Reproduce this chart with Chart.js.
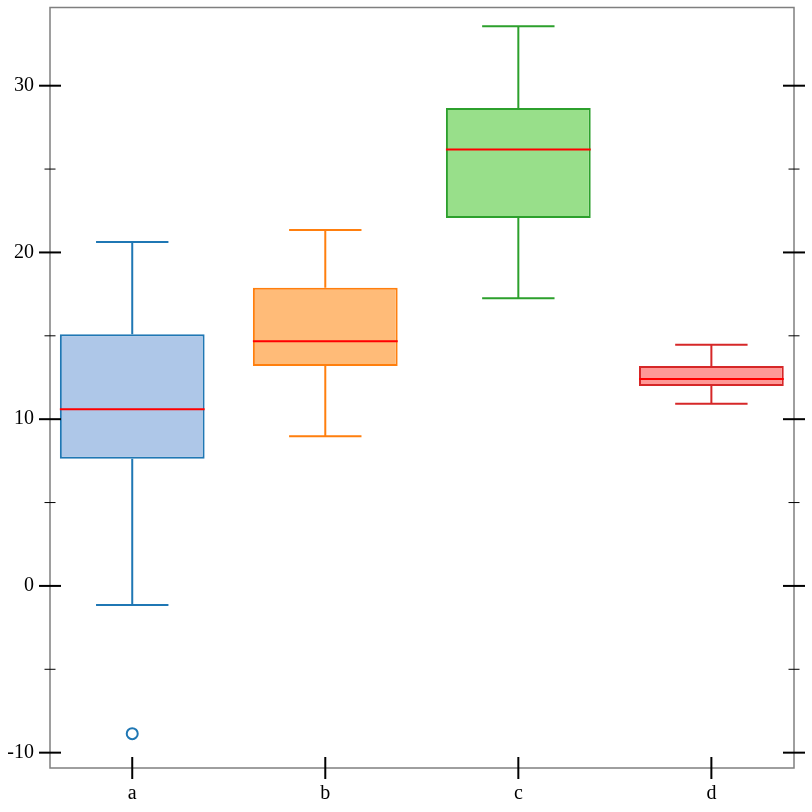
<!DOCTYPE html>
<html><head><meta charset="utf-8">
<script src="https://cdn.jsdelivr.net/npm/chart.js@4/dist/chart.umd.min.js"></script>
<style>html,body{margin:0;padding:0;background:#fff}#wrap{width:812px;height:812px}</style>
</head><body><div id="wrap"><canvas id="c" width="812" height="812"></canvas></div>
<script>
const categories = ['a', 'b', 'c', 'd'];
const whiskerLow = [-1.14, 8.98, 17.26, 10.93];
const q1 = [7.62, 13.19, 22.07, 11.99];
const medians = [10.60, 14.67, 26.17, 12.41];
const q3 = [15.09, 17.88, 28.66, 13.19];
const whiskerHigh = [20.62, 21.35, 33.57, 14.47];
const outliers = [[-8.86], [], [], []];
const yTickValues = [-10, -5, 0, 5, 10, 15, 20, 25, 30];
const yLabelValues = [-10, 0, 10, 20, 30];
const strokeColors = ['#1f77b4', '#ff7f0e', '#2ca02c', '#d62728'];
const fillColors = ['#aec7e8', '#ffbb78', '#98df8a', '#ff9896'];

const BOX_HALF = 0.375;
const CAP_HALF = 0.1875;
const FONT = { family: "'Liberation Serif', 'DejaVu Serif', serif", size: 20 };

const medianData = [];
categories.forEach((c, i) => {
  const x = i + 1;
  medianData.push({ x: x - BOX_HALF, y: medians[i] }, { x: x + BOX_HALF, y: medians[i] }, { x: x, y: null });
});

const whiskerSets = categories.map((c, i) => {
  const x = i + 1;
  return {
    type: 'line',
    data: [
      { x: x, y: q3[i] }, { x: x, y: whiskerHigh[i] }, { x: x, y: null },
      { x: x - CAP_HALF, y: whiskerHigh[i] }, { x: x + CAP_HALF, y: whiskerHigh[i] }, { x: x, y: null },
      { x: x, y: q1[i] }, { x: x, y: whiskerLow[i] }, { x: x, y: null },
      { x: x - CAP_HALF, y: whiskerLow[i] }, { x: x + CAP_HALF, y: whiskerLow[i] }
    ],
    borderColor: strokeColors[i],
    borderWidth: 2,
    pointRadius: 0,
    spanGaps: false,
    tension: 0,
    fill: false
  };
});

const outlierData = [];
const outlierColors = [];
outliers.forEach((arr, i) => arr.forEach(v => { outlierData.push({ x: i + 1, y: v }); outlierColors.push(strokeColors[i]); }));

const frameAndTicks = {
  id: 'frameAndTicks',
  afterDraw(chart) {
    const { ctx, chartArea: { left, right, top, bottom }, scales: { x, y } } = chart;
    ctx.save();
    ctx.strokeStyle = '#7f7f7f';
    ctx.lineWidth = 1.5;
    ctx.strokeRect(left, top, right - left, bottom - top);
    ctx.strokeStyle = '#000';
    y.ticks.forEach(t => {
      const major = yLabelValues.includes(t.value);
      const py = y.getPixelForValue(t.value);
      const len = major ? 11 : 5.5;
      ctx.lineWidth = major ? 2 : 1;
      [left, right].forEach(ax => {
        ctx.beginPath(); ctx.moveTo(ax - len, py); ctx.lineTo(ax + len, py); ctx.stroke();
      });
    });
    x.ticks.forEach(t => {
      const px = x.getPixelForValue(t.value);
      ctx.lineWidth = 2;
      ctx.beginPath(); ctx.moveTo(px, bottom - 11); ctx.lineTo(px, bottom + 11); ctx.stroke();
    });
    ctx.restore();
  }
};

new Chart(document.getElementById('c'), {
  type: 'bar',
  data: {
    datasets: [
      {
        type: 'line',
        data: medianData,
        borderColor: '#ff0000',
        borderWidth: 2,
        pointRadius: 0,
        spanGaps: false,
        tension: 0,
        fill: false
      },
      {
        type: 'line',
        data: outlierData,
        showLine: false,
        pointStyle: 'circle',
        pointRadius: 5.5,
        pointBorderWidth: 2,
        pointBorderColor: outlierColors,
        pointBackgroundColor: 'rgba(0,0,0,0)'
      },
      ...whiskerSets,
      {
        type: 'bar',
        data: categories.map((c, i) => ({ x: i + 1, y: [q1[i], q3[i]] })),
        backgroundColor: fillColors,
        borderColor: strokeColors,
        borderWidth: 2,
        borderSkipped: false,
        barPercentage: 0.75,
        categoryPercentage: 1
      }
    ]
  },
  options: {
    responsive: false,
    animation: false,
    devicePixelRatio: 1,
    layout: { padding: { top: 6, right: 18, left: 0, bottom: 0 } },
    plugins: { legend: { display: false }, tooltip: { enabled: false } },
    scales: {
      x: {
        type: 'linear',
        position: 'bottom',
        offset: false,
        min: 0.574,
        max: 4.428,
        grid: { display: false, drawTicks: false, offset: false },
        border: { display: false },
        afterBuildTicks: s => { s.ticks = categories.map((c, i) => ({ value: i + 1 })); },
        afterFit: s => { s.height = 44; s.paddingLeft = 0; s.paddingRight = 0; },
        ticks: {
          font: FONT,
          color: '#000',
          padding: 14,
          autoSkip: false,
          maxRotation: 0,
          callback: v => categories[v - 1] !== undefined ? categories[v - 1] : ''
        }
      },
      y: {
        type: 'linear',
        position: 'left',
        min: -10.92,
        max: 34.69,
        grid: { display: false, drawTicks: false },
        border: { display: false },
        afterBuildTicks: s => { s.ticks = yTickValues.map(v => ({ value: v })); },
        afterFit: s => { s.width = 50; s.paddingTop = 0; s.paddingBottom = 0; },
        ticks: {
          font: FONT,
          color: '#000',
          padding: 16,
          autoSkip: false,
          callback: v => yLabelValues.includes(v) ? String(v) : ''
        }
      }
    }
  },
  plugins: [frameAndTicks]
});
</script>
</body></html>
